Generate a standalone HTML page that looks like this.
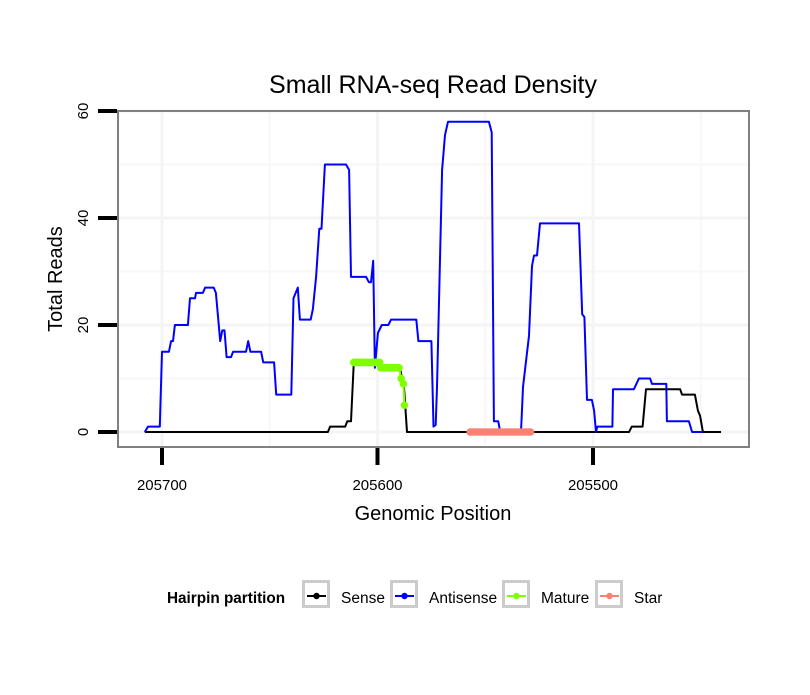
<!DOCTYPE html>
<html><head><meta charset="utf-8"><style>
body{margin:0;background:#fff;font-family:"Liberation Sans",sans-serif}
text{font-family:"Liberation Sans",sans-serif}
</style></head><body>
<svg id="chart" width="810" height="690" xmlns="http://www.w3.org/2000/svg">
<rect width="810" height="690" fill="#fff"/>
<text x="433" y="93" font-size="25" text-anchor="middle">Small RNA-seq Read Density</text>
<g id="grid"></g>
<g id="series"></g>
<rect x="118" y="111" width="631" height="336" fill="none" stroke="#808080" stroke-width="2"/>
<g id="axes"></g>
<text x="433" y="520" font-size="20" text-anchor="middle">Genomic Position</text>
<text transform="translate(62,279) rotate(-90)" font-size="20" text-anchor="middle">Total Reads</text>
<g>
<text x="167" y="603" font-size="15.3" font-weight="bold">Hairpin partition</text>
<g id="legend-keys"></g>
</g>
</svg>
<script>
const xTicks=[205700,205600,205500];
const yTicks=[0,20,40,60];
const senseX=[205708,205623,205622,205615,205614,205612.3,205611,205589.6,205587.7,205586.3,205483.3,205482,205477,205475.4,205459.6,205458.7,205452.7,205451.3,205450.3,205449,205440.6];
const senseY=[0,0,1,1,2,2,13,12,8.4,0,0,1,1,8,8,7,7,4,3,0,0];
const antiX=[205708,205706.5,205701,205700,205696.8,205695.8,205694.9,205694,205688,205687,205684.7,205684.2,205681,205680,205676,205675,205673,205672,205671,205670,205668,205667,205661,205660,205659,205654,205653,205648,205647,205640,205639,205637,205636,205631,205630,205628.5,205627,205626,205624.4,205614.6,205613.2,205612.3,205605.3,205604,205603,205602,205601.2,205599.8,205598,205595,205593.7,205582,205581,205575,205574,205573,205572.4,205570,205568.7,205567.3,205548.3,205547,205546,205544,205543,205533.4,205532.5,205529.7,205528.3,205527.4,205526,205524.6,205506.5,205505,205504,205502.8,205500.5,205499.5,205498.6,205498,205491,205490.7,205481,205478.7,205473.5,205472.6,205466,205465.7,205455.5,205454,205449];
const antiY=[0,1,1,15,15,17,17,20,20,25,25,26,26,27,27,26,17,19,19,14,14,15,15,17,15,15,13,13,7,7,25,27,21,21,23,29,38,38,50,50,49,29,29,28,28,32,12,18.5,20,20,21,21,17,17,1,1.3,8.4,49,55.5,58,58,56,2,2,0,0,8.4,18,31,33,33,39,39,22,21.5,6,6,4,0,1,1,8,8,10,10,9,9,2,2,0,0];
const matureX=[205611,205610.5,205610,205609.5,205609,205608.5,205608,205607.5,205607,205606.5,205606,205605.5,205605,205604.5,205604,205603.5,205603,205602.5,205602,205601.5,205601,205600.5,205600,205599.5,205599,205598.5,205598,205597.5,205597,205596.5,205596,205595.5,205595,205594.5,205594,205593.5,205593,205592.5,205592,205591.5,205591,205590.5,205590,205589,205588,205587.5];
const matureY=[13,13,13,13,13,13,13,13,13,13,13,13,13,13,13,13,13,13,13,13,13,13,13,13,13,12,12,12,12,12,12,12,12,12,12,12,12,12,12,12,12,12,12,10,9,5];
const starX=[205557,205556,205555,205554,205553,205552,205551,205550,205549,205548,205547,205546,205545,205544,205543,205542,205541,205540,205539,205538,205537,205536,205535,205534,205533,205532,205531,205530,205529];
const starY=[0,0,0,0,0,0,0,0,0,0,0,0,0,0,0,0,0,0,0,0,0,0,0,0,0,0,0,0,0];
const NS="http://www.w3.org/2000/svg";
function sx(p){return 162+(205700-p)*2.155;}
function sy(v){return 432-v*5.35;}
function mk(t,a,parent){const e=document.createElementNS(NS,t);for(const k in a)e.setAttribute(k,a[k]);parent.appendChild(e);return e;}
const grid=document.getElementById('grid');
[205650,205550,205450].forEach(p=>{const l=mk('line',{x1:sx(p),x2:sx(p),y1:111,y2:447,stroke:'#f7f7f7','stroke-width':2},grid);

});
[10,30,50].forEach(v=>{const l=mk('line',{x1:118,x2:749,y1:sy(v),y2:sy(v),stroke:'#f7f7f7','stroke-width':2},grid);

});
xTicks.forEach(p=>{const l=mk('line',{x1:sx(p),x2:sx(p),y1:111,y2:447,stroke:'#f4f4f4','stroke-width':3},grid);

});
yTicks.forEach(v=>{const l=mk('line',{x1:118,x2:749,y1:sy(v),y2:sy(v),stroke:'#f4f4f4','stroke-width':3},grid);

});
const axes=document.getElementById('axes');
xTicks.forEach(p=>{const l=mk('line',{x1:sx(p),x2:sx(p),y1:448,y2:465,stroke:'#000','stroke-width':4},axes);


const t=mk('text',{x:sx(p),y:490,'font-size':15,'text-anchor':'middle'},axes);t.textContent=p;

});
yTicks.forEach(v=>{const l=mk('line',{x1:98,x2:117,y1:sy(v),y2:sy(v),stroke:'#000','stroke-width':4},axes);


const t=mk('text',{transform:`translate(88,${sy(v)}) rotate(-90)`,'font-size':15,'text-anchor':'middle'},axes);t.textContent=v;

});
const ser=document.getElementById('series');
function path(xs,ys,color,w,name){const d=xs.map((p,i)=>(i?'L':'M')+sx(p).toFixed(1)+','+sy(ys[i]).toFixed(1)).join('');
const e=mk('path',{d:d,fill:'none',stroke:color,'stroke-width':w,'stroke-linejoin':'round'},ser);

return e;}
path(senseX,senseY,'#000',2,'sense-line');
path(antiX,antiY,'#0000ff',2,'antisense-line');
path(matureX,matureY,'#7fff00',2,'mature-line');
matureX.forEach((p,i)=>{const c=mk('circle',{cx:sx(p),cy:sy(matureY[i]),r:3.8,fill:'#7fff00'},ser);

});
path(starX,starY,'#fa8072',7,'star-line');
starX.forEach((p,i)=>{const c=mk('circle',{cx:sx(p),cy:sy(starY[i]),r:3.8,fill:'#fa8072'},ser);

});
const lg=document.getElementById('legend-keys');
const keys=[['Sense','#000',302,341],['Antisense','#0000ff',390,429],['Mature','#7fff00',502,541],['Star','#fa8072',595,634]];
keys.forEach(k=>{const g=mk('g',{},lg);


mk('rect',{x:k[2]+1.5,y:581.5,width:25,height:25,fill:'#fff',stroke:'#cccccc','stroke-width':3},g);
mk('line',{x1:k[2]+5,x2:k[2]+24,y1:596,y2:596,stroke:k[1],'stroke-width':2},g);
mk('circle',{cx:k[2]+14.5,cy:596,r:3.2,fill:k[1]},g);
const t=mk('text',{x:k[3],y:603,'font-size':15.5},g);t.textContent=k[0];});
</script>
</body></html>
